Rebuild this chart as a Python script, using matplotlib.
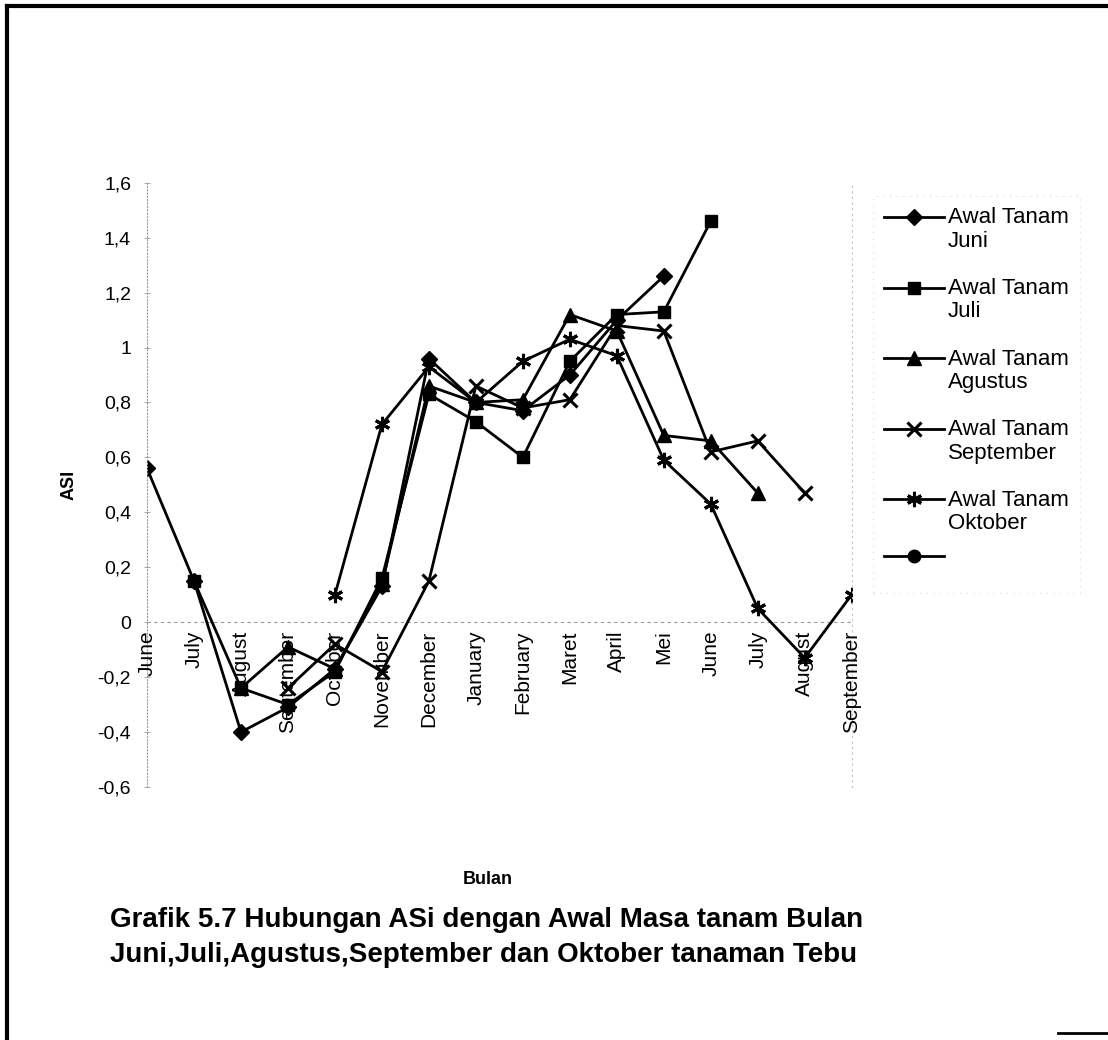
import matplotlib
matplotlib.use("Agg")
import matplotlib.pyplot as plt
from matplotlib.lines import Line2D
from matplotlib.legend_handler import HandlerLine2D
from matplotlib.ticker import FuncFormatter

plt.rcParams['font.family'] = ['Liberation Sans', 'DejaVu Sans']

# Data
bulan = ['June', 'July', 'August', 'September', 'October', 'November', 'December',
         'January', 'February', 'Maret', 'April', 'Mei', 'June', 'July', 'August', 'September']

# each series starts at its planting month (index) and runs 12 months
juni = [0.56, 0.15, -0.40, -0.31, -0.17, 0.13, 0.96, 0.80, 0.77, 0.90, 1.10, 1.26]
juli = [0.15, -0.24, -0.30, -0.18, 0.16, 0.83, 0.73, 0.60, 0.95, 1.12, 1.13, 1.46]
agustus = [-0.24, -0.09, -0.17, 0.14, 0.86, 0.80, 0.81, 1.12, 1.06, 0.68, 0.66, 0.47]
september = [-0.24, -0.08, -0.18, 0.15, 0.86, 0.78, 0.81, 1.08, 1.06, 0.62, 0.66, 0.47]
oktober = [0.10, 0.72, 0.93, 0.80, 0.95, 1.03, 0.97, 0.59, 0.43, 0.05, -0.13, 0.10]

series = [
    ('Awal Tanam\nJuni', 0, juni, 'D', 8),
    ('Awal Tanam\nJuli', 1, juli, 's', 8.5),
    ('Awal Tanam\nAgustus', 2, agustus, '^', 9.5),
    ('Awal Tanam\nSeptember', 3, september, 'x', 10),
    ('Awal Tanam\nOktober', 4, oktober, (6, 2, 0), 11),
]


class TopLineHandler(HandlerLine2D):
    # put the legend marker level with the first line of a two-line label
    def create_artists(self, legend, orig_handle, xdescent, ydescent,
                       width, height, fontsize, trans):
        return super().create_artists(legend, orig_handle, xdescent,
                                      ydescent - 1.15 * fontsize, width, height,
                                      fontsize, trans)


fig = plt.figure(figsize=(11.08, 10.40), dpi=100)
ax = fig.add_axes([0.1327, 0.2433, 0.636, 0.581])

handles = []
labels = []
for label, start, vals, mk, ms in series:
    xs = list(range(start, start + len(vals)))
    line, = ax.plot(xs, vals, color='black', lw=2.0, marker=mk, markersize=ms,
                    markeredgewidth=2.2 if mk in ('x', (6, 2, 0)) else 1,
                    markerfacecolor='black', markeredgecolor='black')
    handles.append(line)
    labels.append(label)

# empty sixth series shown only in the legend
handles.append(Line2D([], [], color='black', lw=2.0, marker='o', markersize=9))
labels.append('')

ax.set_xlim(0, 15)
ax.set_ylim(-0.6, 1.6)
ax.set_yticks([-0.6, -0.4, -0.2, 0, 0.2, 0.4, 0.6, 0.8, 1.0, 1.2, 1.4, 1.6])
ax.yaxis.set_major_formatter(FuncFormatter(lambda v, p: f"{v:g}".replace('.', ',')))
ax.tick_params(axis='y', labelsize=14, direction='inout', length=5, width=0.6,
               color='#999999', pad=9)

# category labels hang below the zero line
ax.set_xticks([])
for i, name in enumerate(bulan):
    ax.text(i, -0.03, name, rotation=90, ha='center', va='top', fontsize=15)

ax.axhline(0, color='#9a9a9a', lw=0.8, ls=(0, (3, 3)), zorder=0)
for s in ['top', 'bottom']:
    ax.spines[s].set_visible(False)
ax.spines['left'].set_color('#9a9a9a')
ax.spines['left'].set_linestyle((0, (1, 2)))
ax.spines['left'].set_linewidth(0.8)
ax.spines['right'].set_color('#c0c0c0')
ax.spines['right'].set_linestyle((0, (1, 4)))
ax.spines['right'].set_linewidth(0.8)

ax.set_ylabel('ASI', fontsize=13, fontweight='bold', labelpad=14)
fig.text(0.440, 0.154, 'Bulan', ha='center', va='center', fontsize=13, fontweight='bold')

leg = ax.legend(handles, labels, loc='upper left', bbox_to_anchor=(0.778, 0.822),
                bbox_transform=fig.transFigure, frameon=True, fontsize=16,
                handlelength=2.7, handletextpad=0.15, labelspacing=1.18,
                borderpad=0.5, fancybox=False,
                handler_map={Line2D: TopLineHandler()})
leg.get_frame().set_edgecolor('#d0d0d0')
leg.get_frame().set_linestyle((0, (1, 5)))
leg.get_frame().set_linewidth(0.8)
for t in leg.get_texts():
    t.set_linespacing(1.15)

fig.text(0.099, 0.115, 'Grafik 5.7 Hubungan ASi dengan Awal Masa tanam Bulan',
         ha='left', va='center', fontsize=20, fontweight='bold')
fig.text(0.099, 0.082, 'Juni,Juli,Agustus,September dan Oktober tanaman Tebu',
         ha='left', va='center', fontsize=20, fontweight='bold')

# page frame
fig.add_artist(Line2D([0.006, 0.006], [0.0, 0.994], color='black', lw=3,
                      transform=fig.transFigure))
fig.add_artist(Line2D([0.006, 1.0], [0.994, 0.994], color='black', lw=3,
                      transform=fig.transFigure))
fig.add_artist(Line2D([0.955, 1.0], [0.007, 0.007], color='black', lw=2,
                      transform=fig.transFigure))

fig.savefig('out.png', dpi=100)
